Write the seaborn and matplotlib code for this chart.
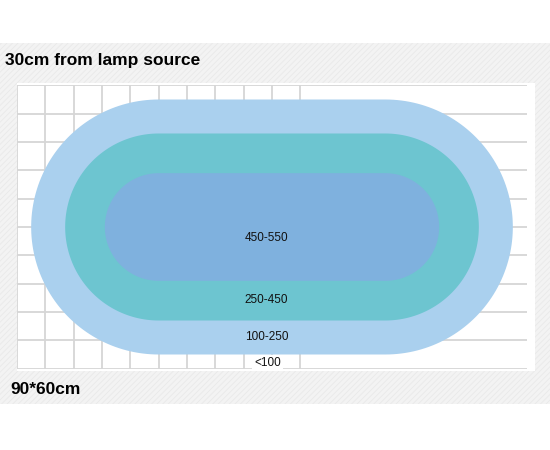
import numpy as np
import seaborn as sns
import matplotlib.pyplot as plt
from matplotlib.patches import Rectangle

# light zones under the lamp (outer -> inner), half-height of each band in grid cells
zones = ['100-250', '250-450', '450-550']
zone_radius = [4.5, 3.3, 1.9]
zone_colors = ['#aad0ee', '#6dc5d0', '#7fb1de']
outside_label = '<100'

# grid of the test sheet: 18 x 10 cells, vertical lines only on the left part
n_cols = 18
n_rows = 10
n_vlines = 10
half_len = 4.0          # half length of the straight part of the stadium
center = (9.0, 5.0)

title = '30cm from lamp source'
size_label = '90*60cm'


# outline of a stadium (rectangle with two half circles)
def stadium(cx, cy, half, r, n=100):
    t = np.linspace(-np.pi / 2, np.pi / 2, n)
    right = np.column_stack([cx + half + r * np.cos(t), cy + r * np.sin(t)])
    left = np.column_stack([cx - half - r * np.cos(t), cy - r * np.sin(t)])
    return np.vstack([right, left])


sns.set_style('white')
plt.rcParams['font.family'] = ['Liberation Sans', 'DejaVu Sans']
plt.rcParams['hatch.linewidth'] = 0.6

fig = plt.figure(figsize=(5.5, 4.5), dpi=100)
fig.patch.set_facecolor('white')

# hatched light grey band behind everything
fig.patches.append(Rectangle((0, 46 / 450), 1, 361 / 450, transform=fig.transFigure,
                             facecolor='#f3f3f3', edgecolor='#e9e9e9', hatch='//////',
                             linewidth=0, zorder=-3))
# white sheet
fig.patches.append(Rectangle((17 / 550, 79 / 450), 518 / 550, 288 / 450, transform=fig.transFigure,
                             facecolor='white', edgecolor='none', zorder=-2))

ax = fig.add_axes([17 / 550, 81 / 450, 510 / 550, 284 / 450])
ax.set_facecolor('none')
ax.set_xlim(0, n_cols)
ax.set_ylim(n_rows, 0)
ax.set_aspect('equal', adjustable='box')
ax.axis('off')

grid_kw = dict(color='#d6d6d6', lw=1.3, zorder=1)
for y in range(n_rows + 1):
    ax.plot([0, n_cols], [y, y], **grid_kw)
for x in range(n_vlines + 1):
    ax.plot([x, x], [0, n_rows], **grid_kw)

# stadium shaped zones
for i, (r, c) in enumerate(zip(zone_radius, zone_colors)):
    pts = stadium(center[0], center[1], half_len, r)
    ax.fill(pts[:, 0], pts[:, 1], color=c, lw=0, zorder=2 + i)

# zone labels
label_y = [8.87, 7.57, 5.4]
for lab, y in zip(zones, label_y):
    ax.text(8.8, y, lab, ha='center', va='center', fontsize=8.5, color='#111111', zorder=10)
ax.text(8.85, 9.79, outside_label, ha='center', va='center', fontsize=8.5, color='#111111',
        zorder=10, bbox=dict(facecolor='white', edgecolor='none', pad=1.5))

fig.text(5 / 550, 1 - 61 / 450, title, fontsize=12.5, fontweight='bold', color='black',
         ha='left', va='center')
fig.text(10 / 550, 1 - 390 / 450, size_label, fontsize=12.5, fontweight='bold', color='black',
         ha='left', va='center')

plt.savefig('out.png', dpi=100, facecolor=fig.get_facecolor())
